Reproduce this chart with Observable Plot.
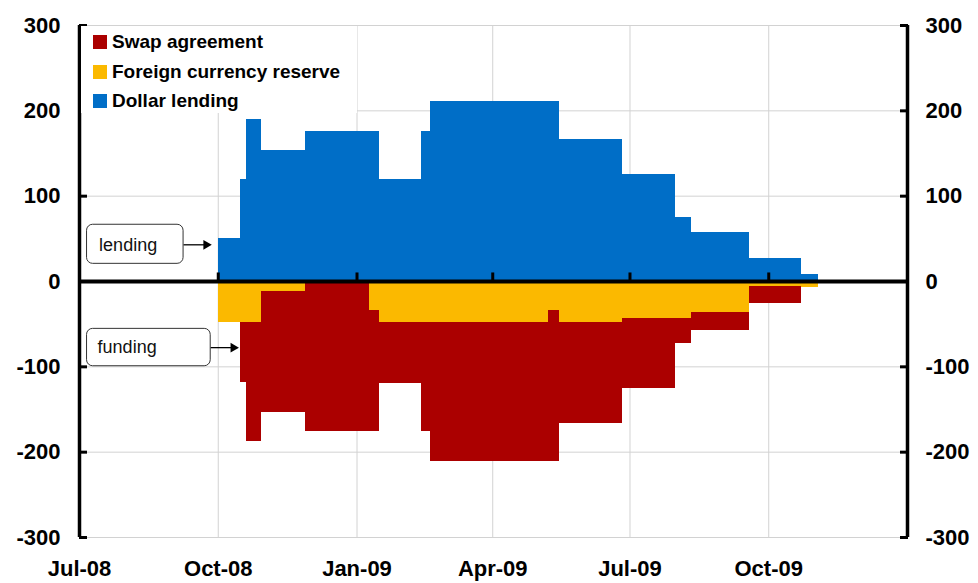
<!DOCTYPE html>
<html><head><meta charset="utf-8">
<script src="https://cdn.jsdelivr.net/npm/d3@7"></script>
<script src="https://cdn.jsdelivr.net/npm/@observablehq/plot@0.6"></script>
<style>
body{margin:0;background:#fff;font-family:"Liberation Sans",Arial,sans-serif}
#wrap{position:relative;width:978px;height:583px;overflow:hidden}
#legend{position:absolute;left:81px;top:26px;width:276px;height:87px;background:#fff}
.row{position:absolute;left:12px;height:20px;display:flex;align-items:center;font-weight:bold;font-size:19px;color:#000;white-space:nowrap}
.sw{width:14px;height:14px;margin-right:5px}
</style></head><body>
<div id="wrap"><div id="chart"></div><div id="legend"></div></div>
<script>
// Period boundaries (step changes)
const periodStart = ["2008-10-01","2008-10-16","2008-10-20","2008-10-30","2008-11-28","2009-01-09","2009-01-16","2009-02-13","2009-02-19","2009-05-08","2009-05-15","2009-06-26","2009-07-31","2009-08-11","2009-09-18","2009-10-23"];
const periodEnd   = ["2008-10-16","2008-10-20","2008-10-30","2008-11-28","2009-01-09","2009-01-16","2009-02-13","2009-02-19","2009-05-08","2009-05-15","2009-06-26","2009-07-31","2009-08-11","2009-09-18","2009-10-23","2009-11-03"];
// Series values
const dollarLending  = [50, 120, 190, 153, 176, 176, 120, 176, 211, 211, 166, 125, 75, 57, 27, 8];
const foreignReserve = [-48, -48, -48, -12, 0, -34, -48, -48, -48, -34, -48, -43, -43, -36, -6, -7];
const swapAgreement  = [0, -70, -140, -141, -176, -142, -72, -128, -163, -177, -118, -82, -30, -21, -20, 0];

const seriesNames = ["Swap agreement", "Foreign currency reserve", "Dollar lending"];
const seriesColors = ["#AB0000", "#FBB900", "#006EC7"];

const yTicks = [-300, -200, -100, 0, 100, 200, 300];
const xTickDates = ["2008-07-01","2008-10-01","2009-01-01","2009-04-01","2009-07-01","2009-10-01"];
const xTickLabels = ["Jul-08","Oct-08","Jan-09","Apr-09","Jul-09","Oct-09"];
const xDomain = ["2008-07-01","2010-01-01"];

// annotations
const annoLabels = ["lending", "funding"];
const annoBoxX1 = ["2008-07-06", "2008-07-06"];
const annoBoxX2 = ["2008-09-08", "2008-09-26"];
const annoBoxY1 = [20.7, -99.3];
const annoBoxY2 = [66.5, -55.5];
const annoTextX = ["2008-07-14", "2008-07-13"];
const annoArrowX2 = ["2008-09-23", "2008-10-11"];
const annoY = [43, -77.5];

const D = s => new Date(s);

const rows = [];
periodStart.forEach((s, i) => {
  rows.push({series: "Dollar lending", x1: D(s), x2: D(periodEnd[i]), y1: 0, y2: dollarLending[i]});
  rows.push({series: "Foreign currency reserve", x1: D(s), x2: D(periodEnd[i]), y1: 0, y2: foreignReserve[i]});
  rows.push({series: "Swap agreement", x1: D(s), x2: D(periodEnd[i]), y1: foreignReserve[i], y2: foreignReserve[i] + swapAgreement[i]});
});
const rectRows = rows.filter(r => r.y1 !== r.y2);

const labelMap = new Map(xTickDates.map((d, i) => [D(d).getTime(), xTickLabels[i]]));
const annos = annoLabels.map((t, i) => ({
  t, bx1: D(annoBoxX1[i]), bx2: D(annoBoxX2[i]), by1: annoBoxY1[i], by2: annoBoxY2[i],
  tx: D(annoTextX[i]), ax2: D(annoArrowX2[i]), y: annoY[i]
}));

const gridX = xTickDates.slice(1).map(D);

const chart = Plot.plot({
  width: 978, height: 583,
  marginLeft: 79, marginRight: 71, marginTop: 25, marginBottom: 46,
  style: {fontFamily: "'Liberation Sans', Arial, sans-serif", fontSize: "22px", fontWeight: "bold", color: "#000", background: "#fff"},
  x: {type: "time", domain: xDomain.map(D)},
  y: {domain: [-300, 300]},
  color: {domain: seriesNames, range: seriesColors},
  marks: [
    Plot.ruleY(yTicks, {stroke: "#d2d2d2", strokeWidth: 1}),
    Plot.ruleX(gridX, {stroke: "#d2d2d2", strokeWidth: 1}),
    Plot.rect(rectRows, {x1: "x1", x2: "x2", y1: "y1", y2: "y2", fill: "series", shapeRendering: "crispEdges"}),
    Plot.ruleY([0], {stroke: "#000", strokeWidth: 4}),
    Plot.ruleX(gridX, {y1: 0, y2: 10, stroke: "#000", strokeWidth: 3}),
    Plot.ruleX(xDomain.map(D), {stroke: "#000", strokeWidth: 3.5}),
    Plot.axisY({anchor: "left", ticks: yTicks, tickSize: -8, tickPadding: 27, strokeWidth: 3, tickFormat: d => String(d), fontSize: 22, fontWeight: "bold", label: null}),
    Plot.axisY({anchor: "right", ticks: yTicks, tickSize: -8, tickPadding: 26, strokeWidth: 3, tickFormat: d => String(d), fontSize: 22, fontWeight: "bold", label: null}),
    Plot.axisX({anchor: "bottom", ticks: xTickDates.map(D), tickSize: 0, tickPadding: 23, tickFormat: d => labelMap.get(d.getTime()), fontSize: 22, fontWeight: "bold", label: null}),
    Plot.rect(annos, {x1: "bx1", x2: "bx2", y1: "by1", y2: "by2", fill: "#fff", stroke: "#333", strokeWidth: 1, rx: 6}),
    Plot.text(annos, {x: "tx", y: "y", text: "t", textAnchor: "start", fontSize: 18, fontWeight: "normal", fill: "#111"}),
    Plot.link(annos, {x1: "bx2", x2: "ax2", y1: "y", y2: "y", stroke: "#000", strokeWidth: 1.3}),
    Plot.dot(annos, {x: "ax2", y: "y", symbol: "triangle", rotate: 90, r: 3.6, fill: "#000", stroke: null})
  ]
});
document.getElementById("chart").appendChild(chart);

const legend = document.getElementById("legend");
[0, 1, 2].forEach(i => {
  const r = document.createElement("div");
  r.className = "row";
  r.style.top = (6 + i * 29.5) + "px";
  r.innerHTML = `<span class="sw" style="background:${seriesColors[i]}"></span><span>${seriesNames[i]}</span>`;
  legend.appendChild(r);
});
</script>
</body></html>
